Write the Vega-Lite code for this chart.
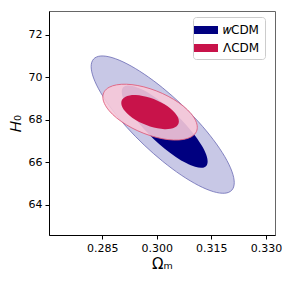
{
  "$schema": "https://vega.github.io/schema/vega-lite/v6.json",
  "width": 226,
  "height": 224,
  "autosize": "none",
  "padding": {"left": 49, "top": 11, "right": 16, "bottom": 49},
  "config": {
    "font": "DejaVu Sans",
    "view": {"stroke": "#666666", "strokeWidth": 1},
    "axis": {"grid": false, "domainColor": "#000000", "tickColor": "#000000", "labelColor": "#000000", "titleColor": "#000000", "labelFont": "DejaVu Sans", "titleFont": "DejaVu Sans", "labelFontSize": 11, "titleFontWeight": "normal", "titleFontSize": 15, "tickSize": 4}
  },
  "datasets": {
    "wOuter": [
      {"i":0,"om":0.321306,"h":65.0385},{"i":1,"om":0.320636,"h":65.580},{"i":2,"om":0.318671,"h":66.271},{"i":3,"om":0.315547,"h":67.0643},
      {"i":4,"om":0.311475,"h":67.9059},{"i":5,"om":0.306733,"h":68.7387},{"i":6,"om":0.301644,"h":69.5058},{"i":7,"om":0.296555,"h":70.1547},
      {"i":8,"om":0.291813,"h":70.6415},{"i":9,"om":0.287741,"h":70.9329},{"i":10,"om":0.284617,"h":71.0088},{"i":11,"om":0.282652,"h":70.8644},
      {"i":12,"om":0.281982,"h":70.5095},{"i":13,"om":0.282652,"h":69.968},{"i":14,"om":0.284617,"h":69.277},{"i":15,"om":0.287741,"h":68.4837},
      {"i":16,"om":0.291813,"h":67.6421},{"i":17,"om":0.296555,"h":66.8093},{"i":18,"om":0.301644,"h":66.0422},{"i":19,"om":0.306733,"h":65.3933},
      {"i":20,"om":0.311475,"h":64.9065},{"i":21,"om":0.315547,"h":64.6151},{"i":22,"om":0.318671,"h":64.5392},{"i":23,"om":0.320636,"h":64.6836}
    ],
    "wInner": [
      {"model":"wCDM","i":0,"om":0.31399,"h":66.0386},{"model":"wCDM","i":1,"om":0.313588,"h":66.3635},{"model":"wCDM","i":2,"om":0.312409,"h":66.7781},{"model":"wCDM","i":3,"om":0.310535,"h":67.254},
      {"model":"wCDM","i":4,"om":0.308092,"h":67.7591},{"model":"wCDM","i":5,"om":0.305246,"h":68.2588},{"model":"wCDM","i":6,"om":0.302193,"h":68.719},{"model":"wCDM","i":7,"om":0.29914,"h":69.1084},
      {"model":"wCDM","i":8,"om":0.296294,"h":69.4005},{"model":"wCDM","i":9,"om":0.293851,"h":69.5752},{"model":"wCDM","i":10,"om":0.291977,"h":69.6209},{"model":"wCDM","i":11,"om":0.290798,"h":69.5341},
      {"model":"wCDM","i":12,"om":0.290396,"h":69.3212},{"model":"wCDM","i":13,"om":0.290798,"h":68.9963},{"model":"wCDM","i":14,"om":0.291977,"h":68.5817},{"model":"wCDM","i":15,"om":0.293851,"h":68.1058},
      {"model":"wCDM","i":16,"om":0.296294,"h":67.6007},{"model":"wCDM","i":17,"om":0.29914,"h":67.101},{"model":"wCDM","i":18,"om":0.302193,"h":66.6408},{"model":"wCDM","i":19,"om":0.305246,"h":66.2514},
      {"model":"wCDM","i":20,"om":0.308092,"h":65.9593},{"model":"wCDM","i":21,"om":0.310535,"h":65.7846},{"model":"wCDM","i":22,"om":0.312409,"h":65.7389},{"model":"wCDM","i":23,"om":0.313588,"h":65.8257}
    ],
    "lOuter": [
      {"i":0,"om":0.311152,"h":67.6471},{"i":1,"om":0.310709,"h":67.9577},{"i":2,"om":0.309413,"h":68.296},{"i":3,"om":0.30735,"h":68.6386},
      {"i":4,"om":0.304662,"h":68.9624},{"i":5,"om":0.301531,"h":69.2455},{"i":6,"om":0.298172,"h":69.4683},{"i":7,"om":0.294813,"h":69.6157},
      {"i":8,"om":0.291682,"h":69.6778},{"i":9,"om":0.288994,"h":69.6502},{"i":10,"om":0.286931,"h":69.5348},{"i":11,"om":0.285635,"h":69.3395},
      {"i":12,"om":0.285192,"h":69.0777},{"i":13,"om":0.285635,"h":68.7671},{"i":14,"om":0.286931,"h":68.4288},{"i":15,"om":0.288994,"h":68.0862},
      {"i":16,"om":0.291682,"h":67.7624},{"i":17,"om":0.294813,"h":67.4793},{"i":18,"om":0.298172,"h":67.2565},{"i":19,"om":0.301531,"h":67.1091},
      {"i":20,"om":0.304662,"h":67.047},{"i":21,"om":0.30735,"h":67.0746},{"i":22,"om":0.309413,"h":67.19},{"i":23,"om":0.310709,"h":67.3853}
    ],
    "lInner": [
      {"model":"ΛCDM","i":0,"om":0.30609,"h":67.9261},{"model":"ΛCDM","i":1,"om":0.30582,"h":68.1156},{"model":"ΛCDM","i":2,"om":0.305029,"h":68.3219},{"model":"ΛCDM","i":3,"om":0.303771,"h":68.5309},
      {"model":"ΛCDM","i":4,"om":0.302131,"h":68.7284},{"model":"ΛCDM","i":5,"om":0.300221,"h":68.9011},{"model":"ΛCDM","i":6,"om":0.298172,"h":69.037},{"model":"ΛCDM","i":7,"om":0.296123,"h":69.1269},
      {"model":"ΛCDM","i":8,"om":0.294213,"h":69.1648},{"model":"ΛCDM","i":9,"om":0.292573,"h":69.1479},{"model":"ΛCDM","i":10,"om":0.291315,"h":69.0775},{"model":"ΛCDM","i":11,"om":0.290524,"h":68.9584},
      {"model":"ΛCDM","i":12,"om":0.290254,"h":68.7987},{"model":"ΛCDM","i":13,"om":0.290524,"h":68.6092},{"model":"ΛCDM","i":14,"om":0.291315,"h":68.4029},{"model":"ΛCDM","i":15,"om":0.292573,"h":68.1939},
      {"model":"ΛCDM","i":16,"om":0.294213,"h":67.9964},{"model":"ΛCDM","i":17,"om":0.296123,"h":67.8237},{"model":"ΛCDM","i":18,"om":0.298172,"h":67.6878},{"model":"ΛCDM","i":19,"om":0.300221,"h":67.5979},
      {"model":"ΛCDM","i":20,"om":0.302131,"h":67.56},{"model":"ΛCDM","i":21,"om":0.303771,"h":67.5769},{"model":"ΛCDM","i":22,"om":0.305029,"h":67.6473},{"model":"ΛCDM","i":23,"om":0.30582,"h":67.7664}
    ]
  },
  "encoding": {
    "x": {"field": "om", "type": "quantitative", "scale": {"domain": [0.2704, 0.3325], "nice": false, "zero": false},
      "axis": {"values": [0.285, 0.3, 0.315, 0.33], "format": ".3f", "title": "Ωₘ", "labelPadding": 3, "titlePadding": 3}},
    "y": {"field": "h", "type": "quantitative", "scale": {"domain": [62.57, 73.13], "nice": false, "zero": false},
      "axis": {"values": [64, 66, 68, 70, 72], "title": "𝐻₀", "labelPadding": 3, "titlePadding": 5}},
    "order": {"field": "i", "type": "quantitative"}
  },
  "layer": [
    {"data": {"name": "wOuter"}, "mark": {"type": "line", "interpolate": "cardinal-closed", "fill": "#c8c8e6", "stroke": "#6a6ab4", "strokeWidth": 0.8}},
    {"data": {"name": "wInner"}, "mark": {"type": "line", "interpolate": "cardinal-closed", "strokeWidth": 0},
      "encoding": {"fill": {"field": "model", "type": "nominal",
        "scale": {"domain": ["wCDM", "ΛCDM"], "range": ["#000080", "#c8134a"]},
        "legend": {"title": null, "orient": "none", "legendX": 144, "legendY": 6, "padding": 5, "strokeColor": "#cccccc", "fillColor": "#ffffff", "cornerRadius": 3,
          "symbolType": "M-1.5,-0.5H1.5V0.5H-1.5Z", "symbolSize": 256, "symbolStrokeWidth": 0, "labelFontSize": 12, "labelOffset": 9, "rowPadding": 4, "labelColor": "#000000",
          "labelExpr": "datum.label == 'wCDM' ? '𝑤CDM' : datum.label"}}}},
    {"data": {"name": "lOuter"}, "mark": {"type": "line", "interpolate": "cardinal-closed", "fill": "#f6c8d8", "fillOpacity": 0.9, "stroke": "#e0607e", "strokeWidth": 0.9}},
    {"data": {"name": "lInner"}, "mark": {"type": "line", "interpolate": "cardinal-closed", "strokeWidth": 0},
      "encoding": {"fill": {"field": "model", "type": "nominal", "scale": {"domain": ["wCDM", "ΛCDM"], "range": ["#000080", "#c8134a"]}}}}
  ]
}
